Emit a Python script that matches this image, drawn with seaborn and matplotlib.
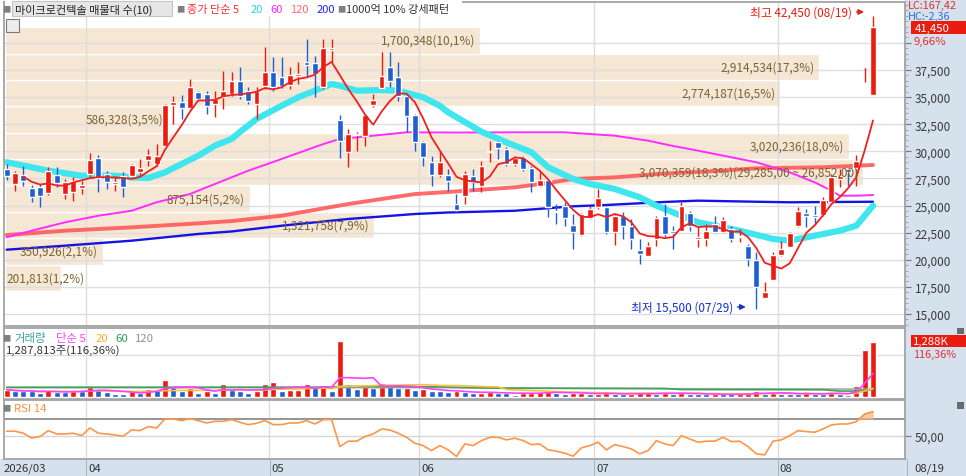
import numpy as np
import pandas as pd
import matplotlib
matplotlib.use("Agg")
import matplotlib.pyplot as plt
from matplotlib.patches import Rectangle
from matplotlib.ticker import MultipleLocator, FuncFormatter
import seaborn as sns

# daily candles, 2026/03/18 .. 2026/08/19 (KRW)
opens = [28370, 26990, 27840, 26590, 26680, 26160, 27840, 26060, 26220, 26590,
         27910, 29380, 27910, 26990, 27750, 27700, 28120, 29230, 28830, 30520,
         34270, 34570, 33970, 35440, 35280, 34360, 34980, 35280, 36510, 35590,
         34360, 36050, 37340, 36880, 36110, 36920, 38210, 38140, 35900, 39370,
         32910, 29910, 31500, 31380, 34270, 35810, 37750, 36880, 35130, 33350,
         30830, 29040, 27840, 27840, 25140, 25850, 27750, 26830, 29910, 30830,
         30210, 28830, 29500, 28430, 26830, 27350, 24520, 24990, 23210, 22280,
         23820, 24840, 24840, 22530, 24010, 23140, 20930, 20380, 21920, 24010,
         22650, 22680, 24310, 21920, 21920, 23300, 22530, 22840, 22070, 21240,
         20010, 16450, 18160, 20440, 21150, 23140, 24310, 24130, 24130, 25350,
         27450, 28370, 28430, 37800, 35200]
highs = [28830, 28180, 28670, 26890, 26990, 28550, 28550, 27450, 27600, 27290,
         29840, 29660, 28210, 27750, 28090, 28830, 29290, 30210, 30670, 34360,
         35130, 35190, 36670, 35590, 35590, 35590, 37430, 37310, 37770, 35900,
         35900, 39590, 38670, 38700, 37750, 38210, 40360, 38820, 40360, 40360,
         33350, 32060, 31810, 33440, 35280, 39180, 39180, 38210, 35280, 33440,
         30980, 29600, 30060, 28370, 26060, 28210, 28370, 29130, 30980, 30980,
         30370, 29600, 29600, 28670, 28210, 27450, 25140, 25300, 24220, 24310,
         24990, 26530, 24990, 24130, 24380, 23760, 21920, 21670, 24010, 25140,
         23140, 25300, 24520, 23140, 23300, 24060, 23920, 23140, 22840, 21450,
         20690, 17920, 20690, 21760, 22590, 24840, 24680, 24930, 25760, 27910,
         28370, 28430, 29690, 37800, 42450]
lows = [27350, 26370, 26830, 25350, 24840, 26000, 26710, 25600, 25450, 26060,
        27600, 26280, 26530, 26370, 25820, 27600, 27750, 28670, 28670, 30460,
        32520, 32980, 33900, 34670, 33440, 33140, 33900, 35130, 34820, 34360,
        32980, 35740, 35590, 35810, 35740, 36210, 36820, 34980, 35750, 38210,
        29360, 28530, 30060, 30520, 34060, 35750, 35900, 34670, 31750, 30060,
        28670, 26830, 27600, 26370, 24380, 25140, 26370, 26220, 28990, 29290,
        28620, 28670, 28210, 26220, 26710, 23920, 23300, 23090, 20990, 22220,
        23760, 24680, 22380, 21360, 21920, 20990, 19610, 20320, 21300, 22070,
        20990, 22680, 22680, 21150, 21240, 22470, 22470, 21610, 21610, 19400,
        15500, 16450, 18160, 20380, 21150, 22990, 22990, 23210, 24060, 25300,
        26680, 26830, 26830, 36400, 35200]
closes = [27720, 28000, 27290, 25760, 25910, 28210, 27080, 27170, 27290, 26890,
          29200, 27540, 27140, 27170, 26680, 28770, 28430, 29690, 29540, 34270,
          34520, 33970, 35900, 34820, 34210, 34820, 35590, 36510, 35130, 34670,
          35590, 37280, 35900, 36050, 37040, 37130, 37960, 37130, 39500, 39530,
          30980, 31600, 31600, 33350, 34730, 36970, 36510, 35130, 33230, 30830,
          29450, 27840, 29040, 27290, 24620, 27910, 27200, 28670, 30000, 30280,
          28830, 29360, 28370, 27140, 27350, 24840, 24380, 23820, 22590, 24220,
          24680, 25670, 22530, 24010, 23140, 21920, 20530, 21300, 23820, 22380,
          22470, 24990, 23140, 22070, 22680, 22530, 23690, 21920, 22220, 20070,
          17460, 17000, 20440, 20990, 22470, 24520, 24010, 23920, 25540, 27600,
          27750, 28120, 29100, 37800, 41450]
# volume in thousand shares
volumes_k = [182, 145, 142, 140, 98, 182, 121, 118, 145, 140,
             238, 198, 121, 82, 80, 145, 105, 198, 182, 415,
             238, 159, 222, 105, 159, 105, 315, 182, 159, 105,
             145, 315, 355, 159, 182, 185, 315, 238, 299, 145,
             1311, 315, 198, 261, 222, 338, 315, 222, 229, 182,
             198, 159, 140, 132, 152, 121, 98, 105, 135, 105,
             100, 65, 105, 112, 121, 145, 116, 75, 105, 112,
             70, 93, 98, 82, 75, 88, 98, 107, 82, 116,
             88, 105, 82, 75, 70, 77, 72, 70, 79, 93,
             158, 82, 116, 88, 82, 79, 105, 82, 80, 135,
             82, 65, 262, 1107, 1287.8]
rsi14 = [55.3, 55.3, 52.9, 47.2, 48.8, 56.0, 52.0, 52.0, 52.9, 50.0,
         59.2, 52.9, 52.0, 50.8, 49.3, 56.8, 56.0, 60.8, 59.2, 70.0,
         70.0, 68.0, 70.5, 68.0, 65.2, 67.2, 67.2, 69.2, 66.0, 63.2,
         64.8, 68.0, 63.2, 63.2, 65.2, 65.2, 68.0, 64.0, 69.2, 69.2,
         36.8, 43.3, 43.3, 48.8, 52.0, 58.0, 56.8, 52.9, 48.0, 40.9,
         38.0, 32.0, 38.0, 32.9, 24.9, 40.0, 38.0, 44.0, 48.0, 48.0,
         44.9, 46.9, 44.0, 39.2, 40.0, 32.9, 31.3, 28.9, 25.3, 35.3,
         38.0, 42.1, 32.9, 39.2, 36.8, 34.0, 28.1, 32.0, 44.0, 40.0,
         38.0, 50.0, 46.0, 42.1, 43.3, 43.3, 48.0, 42.8, 43.3, 36.8,
         28.1, 26.9, 43.3, 44.9, 50.0, 56.0, 54.8, 54.0, 58.0, 62.8,
         64.0, 64.0, 66.8, 76.0, 78.7]

# longer moving averages (day number, price)
ma20_day = [1, 4, 6, 10, 14, 16, 18, 20, 22, 24, 26, 28, 29, 31, 34, 36, 38, 40, 41, 43,
            46, 48, 51, 53, 54, 56, 58, 61, 64, 66, 69, 71, 74, 77, 79, 82, 84, 87, 89,
            93, 95, 98, 101, 103, 104, 105]
ma20_val = [28990, 28530, 28210, 27750, 27750, 27600, 27540, 28060, 28830, 29600, 30520,
            31140, 31780, 32980, 34200, 34980, 35590, 36210, 36050, 35590, 35650, 35590,
            34980, 34200, 33600, 32700, 31800, 30830, 29910, 28530, 27450, 26990, 26530,
            25760, 24990, 24060, 23450, 22990, 22680, 21920, 21760, 22220, 22680, 23140,
            24060, 24990]
ma60_day = [1, 4, 8, 12, 16, 19, 23, 25, 28, 30, 34, 39, 41, 45, 49, 55, 62, 68, 74, 78,
            81, 83, 87, 91, 95, 98, 100, 101, 103, 105]
ma60_val = [22070, 22680, 23450, 24060, 24520, 25300, 26060, 26680, 27600, 28210, 29290,
            30670, 31140, 31440, 31750, 31730, 31750, 31750, 31440, 30980, 30490, 30210,
            29600, 28990, 28060, 27140, 26370, 25910, 25910, 25970]
ma120_day = [1, 8, 16, 24, 28, 34, 42, 50, 54, 62, 66, 69, 74, 80, 86, 91, 99, 105]
ma120_val = [22280, 22680, 22990, 23360, 23570, 24060, 25140, 26060, 26250, 26680, 27080,
             27450, 27600, 27950, 28180, 28430, 28530, 28740]
ma200_day = [1, 8, 16, 24, 28, 34, 42, 50, 54, 62, 69, 73, 80, 84, 91, 95, 105]
ma200_val = [20930, 21300, 21760, 22380, 22610, 23140, 23760, 24220, 24360, 24520, 24930,
             25050, 25330, 25450, 25350, 25300, 25350]
vma60_day = [1, 40, 41, 52, 60, 80, 82, 99, 101, 103, 105]
vma60_val = [238, 240, 258, 250, 215, 210, 185, 180, 150, 150, 185]
vma120_day = [1, 53, 80, 95, 105]
vma120_val = [230, 230, 205, 200, 195]

# volume profile (10 price bands)
band_low = [17120, 19553, 21986, 24419, 26852, 29285, 31718, 34151, 36584, 39017]
band_step = 2433
band_vol = [201813, 350926, 1321758, 875154, 3070359, 3020236, 586328, 2774187, 2914534, 1700348]
band_pct = ["1,2", "2,1", "7,9", "5,2", "18,3", "18,0", "3,5", "16,5", "17,3", "10,1"]

month_starts = [10, 32, 50, 71, 93]
month_labels = ["04", "05", "06", "07", "08"]

RED = "#ea1c10"
BLUE = "#1f5fcf"
W, H = 966, 477

sns.set_style("white")
plt.rcParams["font.family"] = ["Noto Sans CJK KR", "DejaVu Sans"]
plt.rcParams["axes.unicode_minus"] = False

fig = plt.figure(figsize=(W / 100, H / 100), dpi=100)


def box(l, t, r, b):
    return [l / W, 1 - b / H, (r - l) / W, (b - t) / H]


def frect(l, t, r, b, fc, ec="none", z=-1, lw=0.8):
    fig.add_artist(Rectangle((l / W, 1 - b / H), (r - l) / W, (b - t) / H,
                             transform=fig.transFigure, facecolor=fc, edgecolor=ec,
                             lw=lw, zorder=z))


def ftext(x, y, s, color="#333333", size=8.2, ha="left", z=6):
    fig.text(x / W, 1 - y / H, s, color=color, fontsize=size, ha=ha, va="center", zorder=z)


def panel(t, b):
    ax = fig.add_axes(box(4, t, 905, b))
    ax.set_xlim(-0.32, 107.84)
    ax.set_facecolor("white")
    for s in ax.spines.values():
        s.set_color("#a3a3a3")
        s.set_linewidth(1.3)
    ax.set_xticks([])
    ax.tick_params(left=False)
    for m in month_starts:
        ax.axvline(m - 0.45, color="#dcdcdc", lw=1, zorder=0.5)
    return ax


# backgrounds of axis strips
frect(905, 0, 966, 460, "#d6e1ee")
frect(0, 460, 966, 477, "#d6e1ee")

idx = np.arange(len(closes))
o = np.array(opens)
c = np.array(closes)
up = c >= o
cand_col = np.where(up, RED, BLUE)

# ---- price panel ----
ax = panel(3, 327)
ax.set_ylim(13894, 43766)
ticks = np.arange(15000, 40001, 2500)
for v in ticks:
    ax.axhline(v, color="#dedede", lw=1, zorder=0.6)
ax.yaxis.tick_right()
ax.set_yticks(ticks)
ax.yaxis.set_major_formatter(FuncFormatter(lambda v, p: "" if v >= 40000 else f"{int(v):,}"))
ax.yaxis.set_minor_locator(MultipleLocator(500))
ax.tick_params(axis="y", which="major", length=4, color="#777777", labelsize=8.5,
               labelcolor="#3a3a3a", pad=3, right=True, left=False)
ax.tick_params(axis="y", which="minor", length=2, color="#999999", right=True, left=False)

# volume profile bands
vmax = max(band_vol)
bw = [v / vmax * 103 for v in band_vol]
ax.barh(band_low, bw, height=band_step, left=-0.2, align="edge", color="#f5e7d4", zorder=0.3)
for lo, w, v, p in zip(band_low, bw, band_vol, band_pct):
    lab = f"{v:,}({p}%)"
    if v == vmax:
        lab += f"({lo + band_step:,},00 ~ {lo:,},00)"
    if v / vmax < 0.1:
        # too short a band for its label: start it at the left edge
        ax.text(-0.05, lo + band_step / 2, lab, ha="left", va="center",
                color="#7a6234", fontsize=8.5, zorder=7)
    else:
        ax.text(w - 0.8, lo + band_step / 2, lab, ha="right", va="center",
                color="#7a6234", fontsize=8.5, zorder=7)

# moving averages
sns.lineplot(x=np.array(ma200_day) - 1, y=ma200_val, ax=ax, color="#1414e6", linewidth=1.7, zorder=2)
sns.lineplot(x=np.array(ma120_day) - 1, y=ma120_val, ax=ax, color="#ff5a5a", linewidth=2.8, alpha=0.9, zorder=2)
sns.lineplot(x=np.array(ma60_day) - 1, y=ma60_val, ax=ax, color="#ff2cff", linewidth=1.4, zorder=2)
sns.lineplot(x=np.array(ma20_day) - 1, y=ma20_val, ax=ax, color="#3fe6ee", linewidth=4.5, zorder=2.5)
ma5 = pd.Series(closes).rolling(5, min_periods=3).mean()
sns.lineplot(x=idx, y=ma5, ax=ax, color="#f02020", linewidth=1.3, zorder=5)

# candles
ax.vlines(idx, lows, highs, colors=cand_col, lw=1, zorder=4)
body_lo = np.minimum(o, c)
body_h = np.maximum(np.abs(c - o), 90)
ax.bar(idx, body_h, bottom=body_lo, width=0.7, color=cand_col, zorder=4.5)
ax.set_xlim(-0.32, 107.84)
ax.set_xlabel("")
ax.set_ylabel("")

# high / low markers
hi_i = int(np.argmax(highs))
lo_i = int(np.argmin(lows))
hy = highs[hi_i] + 400
ax.annotate("", xy=(hi_i - 0.75, hy), xytext=(hi_i - 2.3, hy),
            arrowprops=dict(arrowstyle="-|>", color=RED, lw=1, mutation_scale=8), zorder=8)
ax.text(hi_i - 2.5, hy, f"최고 {highs[hi_i]:,} (08/19)", color=RED, ha="right", va="center",
        fontsize=8.5, zorder=8)
ly = lows[lo_i] + 150
ax.annotate("", xy=(lo_i - 0.95, ly), xytext=(lo_i - 2.6, ly),
            arrowprops=dict(arrowstyle="-|>", color="#1030d0", lw=1, mutation_scale=8), zorder=8)
ax.text(lo_i - 2.8, ly, f"최저 {lows[lo_i]:,} (07/29)", color="#1030d0", ha="right", va="center",
        fontsize=8.5, zorder=8)

# ---- volume panel ----
axv = panel(329, 400)
axv.set_ylim(-35, 1619)
axv.set_yticks([])
axv.axhline(1000, color="#dedede", lw=1, zorder=0.6)
vol = np.array(volumes_k)
vcol = [RED] + [RED if vol[i] > vol[i - 1] else BLUE for i in range(1, len(vol))]
axv.bar(idx, vol, width=0.72, color=vcol, zorder=3)
vs = pd.Series(volumes_k)
sns.lineplot(x=np.array(vma120_day) - 1, y=vma120_val, ax=axv, color="#a8a8a8", linewidth=1.2, zorder=4)
sns.lineplot(x=np.array(vma60_day) - 1, y=vma60_val, ax=axv, color="#3aa55a", linewidth=1.2, zorder=4)
sns.lineplot(x=idx, y=vs.rolling(20, min_periods=1).mean(), ax=axv, color="#ffc040", linewidth=1.2, zorder=4)
sns.lineplot(x=idx, y=vs.rolling(5, min_periods=1).mean(), ax=axv, color="#ff40ff", linewidth=1.2, zorder=4)
axv.set_xlim(-0.32, 107.84)
axv.set_xlabel("")
axv.set_ylabel("")

# ---- RSI panel ----
axr = panel(401, 460)
axr.set_ylim(21.9, 92.8)
axr.axhline(70, color="#8c8c8c", lw=1.3, zorder=1)
axr.axhline(50, color="#d6d6d6", lw=1, zorder=0.6)
rsi = np.array(rsi14)
axr.fill_between(idx, 70, rsi, where=rsi > 70, color="#ffb27a", alpha=0.7, interpolate=True, zorder=2)
sns.lineplot(x=idx, y=rsi, ax=axr, color="#ff9548", linewidth=1.2, zorder=3)
axr.yaxis.tick_right()
axr.set_yticks([50])
axr.set_yticklabels(["50,00"])
axr.tick_params(axis="y", length=4, color="#777777", labelsize=8.5, labelcolor="#3a3a3a",
                pad=3, right=True, left=False)
axr.set_xlim(-0.32, 107.84)
axr.set_xlabel("")
axr.set_ylabel("")

# ---- header texts ----
frect(5, 1, 462, 17, "white", z=1)
frect(12, 2, 172, 17, "#e6e6e6", ec="#c4c4c4", z=2)
frect(6, 20, 19, 33, "#ececec", ec="#7a7a7a", z=2)
ftext(2, 10, "■", color="#808080", size=6)
ftext(15, 10, "마이크로컨텍솔 매물대 수(10)", color="#222222", size=8)
ftext(176, 10, "■", color="#808080", size=6)
ftext(187, 10, "종가 단순 5", color="#f03030", size=8)
ftext(251, 10, "20", color="#22d6e6", size=8)
ftext(270, 10, "60", color="#ff22ff", size=8)
ftext(290, 10, "120", color="#ff6a6a", size=8)
ftext(317, 10, "200", color="#2222ff", size=8)
ftext(337, 10, "■", color="#808080", size=6)
ftext(346, 10, "1000억 10% 강세패턴", color="#333333", size=8)

ftext(2, 339, "■", color="#808080", size=6)
ftext(14, 339, "거래량", color="#3aa0a8")
ftext(56, 339, "단순 5", color="#ff40ff")
ftext(96, 339, "20", color="#ffb020")
ftext(115, 339, "60", color="#30a050")
ftext(135, 339, "120", color="#909090")
ftext(6, 351, "1,287,813주(116,36%)", color="#333333")
ftext(2, 409, "■", color="#808080", size=6)
ftext(14, 409, "RSI 14", color="#ff8c40")

# right column labels
ftext(908, 6, "LC:167,42", color="#e03030", size=7.8)
ftext(908, 16.5, "HC:-2,36", color="#3070d0", size=7.8)
frect(911, 22, 966, 35, RED, z=5)
ftext(915, 28.5, f"{closes[-1]:,}", color="white")
ftext(913, 42, "9,66%", color="#e03030")
frect(911, 336, 966, 348, RED, z=5)
ftext(913, 342, "1,288K", color="white")
ftext(913, 355, "116,36%", color="#e03030", size=7.8)
frect(957, 329, 964, 335, "#6a6a6a", z=5)
frect(957, 403, 964, 410, "#6a6a6a", z=5)

# bottom date strip
ftext(4, 469, "2026/03")
for m, lab in zip(month_starts, month_labels):
    xp = 6.7 + (m - 0.45) * 8.33
    frect(xp, 460, xp + 1, 477, "#a8b4c2", z=1)
    ftext(xp + 2, 469, lab)
frect(907, 460, 908, 477, "#a8b4c2", z=1)
ftext(914, 469, "08/19")

fig.savefig("out.png", dpi=100)
